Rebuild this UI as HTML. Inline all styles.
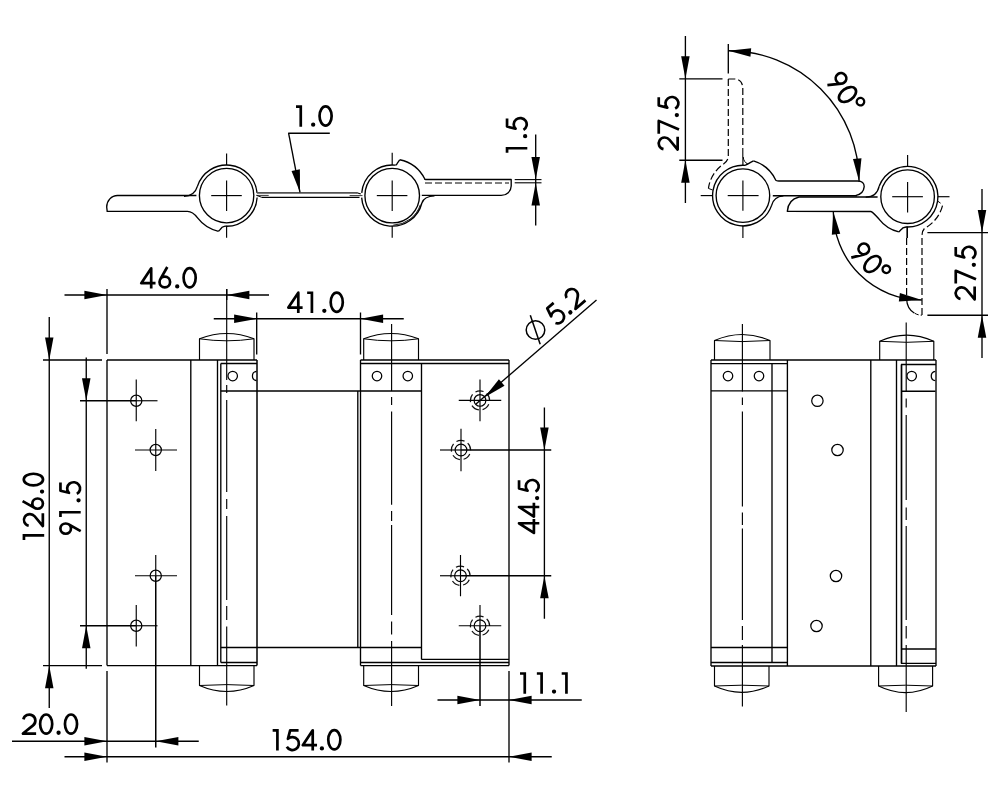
<!DOCTYPE html>
<html><head><meta charset="utf-8"><title>Hinge drawing</title>
<style>html,body{margin:0;padding:0;background:#fff;font-family:"Liberation Sans",sans-serif;}svg{display:block}</style>
</head><body>
<svg width="1000" height="800" viewBox="0 0 1000 800">
<rect x="0" y="0" width="1000" height="800" fill="#fff"/>
<circle cx="226.6" cy="195.6" r="27.2" fill="none" stroke="#000" stroke-width="1.35"/>
<path d="M225,226.16 A30.6,30.6 0 0 0 257.14,197.47" fill="none" stroke="#000" stroke-width="1.35" stroke-linejoin="round"/>
<path d="M257.08,192.93 A30.6,30.6 0 0 0 197.5,186.14" fill="none" stroke="#000" stroke-width="1.35" stroke-linejoin="round"/>
<path d="M218.49,231.29 L220.3,229.4 Q221.6,226.8 225,226.16" fill="none" stroke="#000" stroke-width="1.35" stroke-linejoin="miter"/>
<path d="M196.4,195.5 L117.5,195.5 A10.8,11.5 0 0 0 106.7,207 L107.2,211.3 L187.5,211.4 Q192.6,211.4 197.56,217.88 A36.6,36.6 0 0 0 218.49,231.29" fill="none" stroke="#000" stroke-width="1.35" stroke-linejoin="miter"/>
<path d="M184,196.2 Q194.5,196.2 197.5,186.14" fill="none" stroke="#000" stroke-width="1.35" stroke-linejoin="round"/>
<line x1="256.9" y1="192.9" x2="357" y2="192.9" stroke="#555" stroke-width="1.7" stroke-linecap="butt"/>
<line x1="261.8" y1="197.3" x2="359.5" y2="197.3" stroke="#000" stroke-width="1.25" stroke-linecap="butt"/>
<line x1="256.4" y1="195.4" x2="268.7" y2="195.4" stroke="#000" stroke-width="0.8" stroke-linecap="butt"/>
<path d="M256.6,195.4 L261.8,197.3" fill="none" stroke="#000" stroke-width="1" stroke-linejoin="round"/>
<path d="M356.9,192.7 L360.8,194" fill="none" stroke="#000" stroke-width="1.2" stroke-linejoin="round"/>
<line x1="349.6" y1="195.6" x2="362.5" y2="195.6" stroke="#000" stroke-width="0.8" stroke-linecap="butt"/>
<circle cx="392.2" cy="195.6" r="27.3" fill="none" stroke="#000" stroke-width="1.35"/>
<path d="M421.89,203 A30.6,30.6 0 0 1 361.67,197.63" fill="none" stroke="#000" stroke-width="1.35" stroke-linejoin="round"/>
<path d="M361.72,192.93 A30.6,30.6 0 0 1 395.4,165.17" fill="none" stroke="#000" stroke-width="1.35" stroke-linejoin="round"/>
<path d="M420.35,204.75 A29.6,29.6 0 0 1 393.23,225.18" fill="none" stroke="#000" stroke-width="0.9" stroke-linejoin="round"/>
<path d="M399.68,159.77 L397.2,163.4 Q396.6,164.8 395.4,165.17" fill="none" stroke="#000" stroke-width="1.35" stroke-linejoin="round"/>
<path d="M399.68,159.77 A36.6,36.6 0 0 1 424.81,178.98 Q424,179.3 427,179.5 L511.2,179.5 L511.2,186 A10,9.5 0 0 1 501.2,195.4 L421.8,195.4" fill="none" stroke="#000" stroke-width="1.35" stroke-linejoin="round"/>
<path d="M434.5,195.8 Q424,196.2 421.89,203" fill="none" stroke="#000" stroke-width="1.35" stroke-linejoin="round"/>
<line x1="425" y1="183" x2="509" y2="183" stroke="#000" stroke-width="1.2" stroke-dasharray="7 3" stroke-linecap="butt"/>
<line x1="226.6" y1="153.4" x2="226.6" y2="165" stroke="#000" stroke-width="1.15" stroke-linecap="butt"/>
<line x1="226.6" y1="180.5" x2="226.6" y2="210.9" stroke="#000" stroke-width="1.15" stroke-linecap="butt"/>
<line x1="226.6" y1="225.7" x2="226.6" y2="237.8" stroke="#000" stroke-width="1.15" stroke-linecap="butt"/>
<line x1="211.2" y1="195.6" x2="241.8" y2="195.6" stroke="#000" stroke-width="1.15" stroke-linecap="butt"/>
<line x1="392.2" y1="152.8" x2="392.2" y2="165" stroke="#000" stroke-width="1.15" stroke-linecap="butt"/>
<line x1="392.2" y1="180.5" x2="392.2" y2="210.9" stroke="#000" stroke-width="1.15" stroke-linecap="butt"/>
<line x1="392.2" y1="225.7" x2="392.2" y2="237.8" stroke="#000" stroke-width="1.15" stroke-linecap="butt"/>
<line x1="376.8" y1="195.6" x2="407.4" y2="195.6" stroke="#000" stroke-width="1.15" stroke-linecap="butt"/>
<line x1="514.7" y1="179.6" x2="541.5" y2="179.6" stroke="#000" stroke-width="1.1" stroke-linecap="butt"/>
<line x1="514.7" y1="182.8" x2="541.5" y2="182.8" stroke="#000" stroke-width="1.1" stroke-linecap="butt"/>
<line x1="535.7" y1="134.4" x2="535.7" y2="225.4" stroke="#000" stroke-width="1.35" stroke-linecap="butt"/>
<polygon points="535.7,179.6 531.45,157 539.95,157" fill="#000"/>
<polygon points="535.7,182.8 539.95,205.4 531.45,205.4" fill="#000"/>
<line x1="288.2" y1="133.2" x2="329.8" y2="133.2" stroke="#000" stroke-width="1.35" stroke-linecap="butt"/>
<line x1="288.6" y1="133.2" x2="300" y2="192.3" stroke="#000" stroke-width="1.35" stroke-linecap="butt"/>
<polygon points="300,192.3 291.55,170.91 299.89,169.3" fill="#000"/>
<circle cx="742.9" cy="195.6" r="26.8" fill="none" stroke="#000" stroke-width="1.35"/>
<path d="M771.41,205.86 A30.3,30.3 0 1 1 745.01,165.37" fill="none" stroke="#000" stroke-width="1.35" stroke-linejoin="round"/>
<path d="M753.51,160.89 L750.6,162.4 Q748.3,163.8 745.01,165.37" fill="none" stroke="#000" stroke-width="1.35" stroke-linejoin="round"/>
<path d="M753.51,160.89 A36.3,36.3 0 0 1 775.53,179.69 Q775.6,180.8 779,181 L857.5,181 Q864.3,181 864.2,186.6 Q863.6,194 855.5,195.7" fill="none" stroke="#000" stroke-width="1.35" stroke-linejoin="round"/>
<line x1="772.8" y1="195.7" x2="857" y2="195.7" stroke="#000" stroke-width="1.35" stroke-linecap="butt"/>
<path d="M783.4,195.9 Q773.6,196.6 771.41,205.86" fill="none" stroke="#000" stroke-width="1.35" stroke-linejoin="round"/>
<circle cx="907.6" cy="196.7" r="26.8" fill="none" stroke="#000" stroke-width="1.35"/>
<path d="M906.01,226.96 A30.3,30.3 0 1 0 879.22,186.09" fill="none" stroke="#000" stroke-width="1.35" stroke-linejoin="round"/>
<path d="M898.82,231.92 L901.2,229.6 Q902.3,227.5 906.01,226.96" fill="none" stroke="#000" stroke-width="1.35" stroke-linejoin="round"/>
<path d="M877.6,197 L799,197 Q788.2,199.5 787.3,211.4 L870.8,211.5 Q872.5,211.7 879,219.05 A36.3,36.3 0 0 0 898.82,231.92" fill="none" stroke="#000" stroke-width="1.35" stroke-linejoin="round"/>
<path d="M865.7,197.1 Q876.6,197.2 879.22,186.09" fill="none" stroke="#000" stroke-width="1.35" stroke-linejoin="round"/>
<line x1="742.9" y1="157" x2="742.9" y2="165.3" stroke="#000" stroke-width="1.15" stroke-linecap="butt"/>
<line x1="742.9" y1="180.5" x2="742.9" y2="210.8" stroke="#000" stroke-width="1.15" stroke-linecap="butt"/>
<line x1="742.9" y1="225.4" x2="742.9" y2="238" stroke="#000" stroke-width="1.15" stroke-linecap="butt"/>
<line x1="700.7" y1="195.6" x2="712.6" y2="195.6" stroke="#000" stroke-width="1.15" stroke-linecap="butt"/>
<line x1="727.7" y1="195.6" x2="758.6" y2="195.6" stroke="#000" stroke-width="1.15" stroke-linecap="butt"/>
<line x1="907.6" y1="155" x2="907.6" y2="166.4" stroke="#000" stroke-width="1.15" stroke-linecap="butt"/>
<line x1="907.6" y1="182" x2="907.6" y2="212.4" stroke="#000" stroke-width="1.15" stroke-linecap="butt"/>
<line x1="907.2" y1="226.5" x2="907.2" y2="238" stroke="#000" stroke-width="1.6" stroke-linecap="butt"/>
<line x1="892.2" y1="196.7" x2="922.9" y2="196.7" stroke="#000" stroke-width="1.15" stroke-linecap="butt"/>
<line x1="937.7" y1="196.7" x2="949.5" y2="196.7" stroke="#000" stroke-width="1.15" stroke-linecap="butt"/>
<path d="M728.3,79 L728.3,156 Q728.2,161.5 722.6,164.6 A36,36 0 0 0 708.4,188.4" fill="none" stroke="#000" stroke-width="1.2" stroke-dasharray="7 3" stroke-linejoin="round"/>
<path d="M708.4,188.4 L712.6,190" fill="none" stroke="#000" stroke-width="1" stroke-linejoin="round"/>
<path d="M728.3,79 L735,79 Q742.8,79.5 742.8,89 L742.8,148" fill="none" stroke="#000" stroke-width="1.2" stroke-dasharray="7 3" stroke-linejoin="round"/>
<line x1="742.8" y1="148" x2="742.8" y2="157" stroke="#000" stroke-width="1.1" stroke-linecap="butt"/>
<path d="M743.2,157 Q743.6,162 748,164.2" fill="none" stroke="#000" stroke-width="1" stroke-linejoin="round"/>
<path d="M906.6,238 L906.6,300" fill="none" stroke="#000" stroke-width="1.2" stroke-dasharray="7 3" stroke-linejoin="round"/>
<path d="M906.6,299 Q907,309 914.5,313.2" fill="none" stroke="#000" stroke-width="1.25" stroke-linejoin="round"/>
<path d="M915,313.4 Q918,315.2 922,315.2" fill="none" stroke="#000" stroke-width="1" stroke-dasharray="4 2" stroke-linejoin="round"/>
<path d="M922,315 L922,236 Q922,231 924.5,228.4 A36,36 0 0 0 942.9,204" fill="none" stroke="#000" stroke-width="1.2" stroke-dasharray="7 3" stroke-linejoin="round"/>
<path d="M937.8,201.2 L940.6,203.2" fill="none" stroke="#000" stroke-width="1" stroke-linejoin="round"/>
<line x1="685.4" y1="36" x2="685.4" y2="203" stroke="#000" stroke-width="1.35" stroke-linecap="butt"/>
<line x1="679.3" y1="78.8" x2="722.5" y2="78.8" stroke="#000" stroke-width="1.35" stroke-linecap="butt"/>
<line x1="679.3" y1="160.2" x2="722.5" y2="160.2" stroke="#000" stroke-width="1.35" stroke-linecap="butt"/>
<polygon points="685.4,78.8 681.15,56.2 689.65,56.2" fill="#000"/>
<polygon points="685.4,160.2 689.65,182.8 681.15,182.8" fill="#000"/>
<line x1="982" y1="189" x2="982" y2="358" stroke="#000" stroke-width="1.35" stroke-linecap="butt"/>
<line x1="927.4" y1="232.6" x2="988" y2="232.6" stroke="#000" stroke-width="1.35" stroke-linecap="butt"/>
<line x1="927.4" y1="315.2" x2="988" y2="315.2" stroke="#000" stroke-width="1.35" stroke-linecap="butt"/>
<polygon points="982,232.6 977.75,210 986.25,210" fill="#000"/>
<polygon points="982,315.2 986.25,337.8 977.75,337.8" fill="#000"/>
<line x1="728.3" y1="44" x2="728.3" y2="73.6" stroke="#000" stroke-width="1.35" stroke-linecap="butt"/>
<path d="M728.3,50.7 A130.8,130.8 0 0 1 859.1,181.5" fill="none" stroke="#000" stroke-width="1.35" stroke-linejoin="round"/>
<polygon points="728.3,50.7 751.17,48.32 750.48,56.79" fill="#000"/>
<polygon points="859.1,181.2 853.01,159.02 861.48,158.33" fill="#000"/>
<path d="M833.3,211.5 A88.5,88.5 0 0 0 921.8,300" fill="none" stroke="#000" stroke-width="1.35" stroke-linejoin="round"/>
<polygon points="833.3,211.8 840.27,233.71 831.84,234.75" fill="#000"/>
<polygon points="921.8,300 898.85,301.42 899.9,292.99" fill="#000"/>
<line x1="107" y1="360" x2="257" y2="360" stroke="#000" stroke-width="1.35" stroke-linecap="butt"/>
<line x1="360.5" y1="360" x2="509" y2="360" stroke="#000" stroke-width="1.35" stroke-linecap="butt"/>
<line x1="220.8" y1="363.5" x2="257" y2="363.5" stroke="#000" stroke-width="1.35" stroke-linecap="butt"/>
<line x1="360.5" y1="363.5" x2="509" y2="363.5" stroke="#000" stroke-width="1.35" stroke-linecap="butt"/>
<line x1="220.8" y1="391" x2="421.5" y2="391" stroke="#000" stroke-width="1.35" stroke-linecap="butt"/>
<line x1="220.8" y1="647.5" x2="421.5" y2="647.5" stroke="#000" stroke-width="1.35" stroke-linecap="butt"/>
<line x1="421.5" y1="659.4" x2="509" y2="659.4" stroke="#000" stroke-width="1.35" stroke-linecap="butt"/>
<line x1="220.8" y1="662.5" x2="257" y2="662.5" stroke="#000" stroke-width="1.35" stroke-linecap="butt"/>
<line x1="360.5" y1="662.5" x2="509" y2="662.5" stroke="#000" stroke-width="1.35" stroke-linecap="butt"/>
<line x1="107" y1="665.6" x2="257" y2="665.6" stroke="#000" stroke-width="1.35" stroke-linecap="butt"/>
<line x1="360.5" y1="665.6" x2="509" y2="665.6" stroke="#000" stroke-width="1.35" stroke-linecap="butt"/>
<line x1="107" y1="360" x2="107" y2="665.6" stroke="#000" stroke-width="1.35" stroke-linecap="butt"/>
<line x1="190.8" y1="360" x2="190.8" y2="665.6" stroke="#000" stroke-width="1.35" stroke-linecap="butt"/>
<line x1="217.5" y1="360" x2="217.5" y2="665.6" stroke="#000" stroke-width="1.35" stroke-linecap="butt"/>
<line x1="220.8" y1="363.5" x2="220.8" y2="662.5" stroke="#000" stroke-width="1.35" stroke-linecap="butt"/>
<line x1="257" y1="360" x2="257" y2="665.6" stroke="#000" stroke-width="1.5" stroke-linecap="butt"/>
<line x1="357.8" y1="391" x2="357.8" y2="647.5" stroke="#000" stroke-width="1.35" stroke-linecap="butt"/>
<line x1="360.5" y1="360" x2="360.5" y2="665.6" stroke="#000" stroke-width="1.35" stroke-linecap="butt"/>
<line x1="421.5" y1="363.5" x2="421.5" y2="659.4" stroke="#000" stroke-width="1.35" stroke-linecap="butt"/>
<line x1="509" y1="360" x2="509" y2="665.6" stroke="#000" stroke-width="1.35" stroke-linecap="butt"/>
<path d="M199.5,360 L199.5,338.8 Q226.75,328.2 254,338.8 L254,360" fill="none" stroke="#000" stroke-width="1.15" stroke-linejoin="round"/>
<path d="M199.5,338.8 Q226.75,342.8 254,338.8" fill="none" stroke="#000" stroke-width="1" stroke-linejoin="round"/>
<path d="M363.7,360 L363.7,338.8 Q391.1,328.2 418.5,338.8 L418.5,360" fill="none" stroke="#000" stroke-width="1.15" stroke-linejoin="round"/>
<path d="M363.7,338.8 Q391.1,342.8 418.5,338.8" fill="none" stroke="#000" stroke-width="1" stroke-linejoin="round"/>
<path d="M199.5,665.6 L199.5,685.5 Q226.75,697.5 254,685.5 L254,665.6" fill="none" stroke="#000" stroke-width="1.15" stroke-linejoin="round"/>
<path d="M199.5,685.5 Q226.75,683.7 254,685.5" fill="none" stroke="#000" stroke-width="1" stroke-linejoin="round"/>
<path d="M363.7,665.6 L363.7,685.5 Q391.1,697.5 418.5,685.5 L418.5,665.6" fill="none" stroke="#000" stroke-width="1.15" stroke-linejoin="round"/>
<path d="M363.7,685.5 Q391.1,683.7 418.5,685.5" fill="none" stroke="#000" stroke-width="1" stroke-linejoin="round"/>
<circle cx="232.7" cy="376" r="4.75" fill="none" stroke="#000" stroke-width="1.25"/>
<circle cx="377" cy="376" r="4.75" fill="none" stroke="#000" stroke-width="1.25"/>
<circle cx="407.8" cy="376" r="4.75" fill="none" stroke="#000" stroke-width="1.25"/>
<path d="M256.5,371.3 A4.75,4.75 0 0 0 256.5,380.7" fill="none" stroke="#000" stroke-width="1.25" stroke-linejoin="round"/>
<line x1="226.7" y1="289" x2="226.7" y2="380" stroke="#000" stroke-width="1.15" stroke-linecap="butt"/>
<line x1="226.7" y1="385" x2="226.7" y2="393" stroke="#000" stroke-width="1.15" stroke-linecap="butt"/>
<line x1="226.7" y1="400" x2="226.7" y2="492" stroke="#000" stroke-width="1.15" stroke-linecap="butt"/>
<line x1="226.7" y1="499" x2="226.7" y2="509" stroke="#000" stroke-width="1.15" stroke-linecap="butt"/>
<line x1="226.7" y1="516" x2="226.7" y2="600" stroke="#000" stroke-width="1.15" stroke-linecap="butt"/>
<line x1="226.7" y1="606" x2="226.7" y2="620" stroke="#000" stroke-width="1.15" stroke-linecap="butt"/>
<line x1="226.7" y1="626.5" x2="226.7" y2="705.5" stroke="#000" stroke-width="1.15" stroke-linecap="butt"/>
<line x1="391.6" y1="324" x2="391.6" y2="391" stroke="#000" stroke-width="1.15" stroke-linecap="butt"/>
<line x1="391.6" y1="397" x2="391.6" y2="405" stroke="#000" stroke-width="1.15" stroke-linecap="butt"/>
<line x1="391.6" y1="411.5" x2="391.6" y2="504.7" stroke="#000" stroke-width="1.15" stroke-linecap="butt"/>
<line x1="391.6" y1="511" x2="391.6" y2="521" stroke="#000" stroke-width="1.15" stroke-linecap="butt"/>
<line x1="391.6" y1="525" x2="391.6" y2="615" stroke="#000" stroke-width="1.15" stroke-linecap="butt"/>
<line x1="391.6" y1="621.5" x2="391.6" y2="634.6" stroke="#000" stroke-width="1.15" stroke-linecap="butt"/>
<line x1="391.6" y1="641" x2="391.6" y2="706" stroke="#000" stroke-width="1.15" stroke-linecap="butt"/>
<circle cx="136.25" cy="400.75" r="5.6" fill="none" stroke="#000" stroke-width="1.25"/>
<circle cx="155.75" cy="450" r="5.6" fill="none" stroke="#000" stroke-width="1.25"/>
<circle cx="155.75" cy="575.75" r="5.6" fill="none" stroke="#000" stroke-width="1.25"/>
<circle cx="136.25" cy="625.75" r="5.6" fill="none" stroke="#000" stroke-width="1.25"/>
<line x1="80" y1="400.75" x2="136.25" y2="400.75" stroke="#000" stroke-width="1.5" stroke-linecap="butt"/>
<line x1="136.25" y1="400.75" x2="157.5" y2="400.75" stroke="#000" stroke-width="1.15" stroke-linecap="butt"/>
<line x1="136.25" y1="379.5" x2="136.25" y2="421.2" stroke="#000" stroke-width="1.15" stroke-linecap="butt"/>
<line x1="135" y1="450" x2="177" y2="450" stroke="#000" stroke-width="1.15" stroke-linecap="butt"/>
<line x1="155.75" y1="429" x2="155.75" y2="471" stroke="#000" stroke-width="1.15" stroke-linecap="butt"/>
<line x1="135" y1="575.75" x2="177" y2="575.75" stroke="#000" stroke-width="1.15" stroke-linecap="butt"/>
<line x1="155.75" y1="555" x2="155.75" y2="575.75" stroke="#000" stroke-width="1.15" stroke-linecap="butt"/>
<line x1="155.75" y1="575.75" x2="155.75" y2="747.5" stroke="#000" stroke-width="1.5" stroke-linecap="butt"/>
<line x1="80" y1="625.75" x2="136.25" y2="625.75" stroke="#000" stroke-width="1.5" stroke-linecap="butt"/>
<line x1="136.25" y1="625.75" x2="157.5" y2="625.75" stroke="#000" stroke-width="1.15" stroke-linecap="butt"/>
<line x1="136.25" y1="605" x2="136.25" y2="646.5" stroke="#000" stroke-width="1.15" stroke-linecap="butt"/>
<circle cx="480" cy="400.4" r="5.85" fill="none" stroke="#000" stroke-width="1.2"/>
<circle cx="480" cy="400.4" r="9.6" fill="none" stroke="#111" stroke-width="1.25" stroke-dasharray="8.3 3.76" stroke-dashoffset="8"/>
<circle cx="461" cy="450" r="5.85" fill="none" stroke="#000" stroke-width="1.2"/>
<circle cx="461" cy="450" r="9.6" fill="none" stroke="#111" stroke-width="1.25" stroke-dasharray="8.3 3.76" stroke-dashoffset="8"/>
<circle cx="460.5" cy="575.75" r="5.85" fill="none" stroke="#000" stroke-width="1.2"/>
<circle cx="460.5" cy="575.75" r="9.6" fill="none" stroke="#111" stroke-width="1.25" stroke-dasharray="8.3 3.76" stroke-dashoffset="8"/>
<circle cx="480" cy="625.75" r="5.85" fill="none" stroke="#000" stroke-width="1.2"/>
<circle cx="480" cy="625.75" r="9.6" fill="none" stroke="#111" stroke-width="1.25" stroke-dasharray="8.3 3.76" stroke-dashoffset="8"/>
<line x1="458.75" y1="400.4" x2="501.25" y2="400.4" stroke="#000" stroke-width="1.15" stroke-linecap="butt"/>
<line x1="480" y1="379.5" x2="480" y2="421.25" stroke="#000" stroke-width="1.15" stroke-linecap="butt"/>
<line x1="440" y1="450" x2="461" y2="450" stroke="#000" stroke-width="1.15" stroke-linecap="butt"/>
<line x1="461" y1="450" x2="551.25" y2="450" stroke="#000" stroke-width="1.5" stroke-linecap="butt"/>
<line x1="461" y1="428.75" x2="461" y2="471.25" stroke="#000" stroke-width="1.15" stroke-linecap="butt"/>
<line x1="440" y1="575.75" x2="460.5" y2="575.75" stroke="#000" stroke-width="1.15" stroke-linecap="butt"/>
<line x1="460.5" y1="575.75" x2="551.25" y2="575.75" stroke="#000" stroke-width="1.5" stroke-linecap="butt"/>
<line x1="460.5" y1="555" x2="460.5" y2="596.25" stroke="#000" stroke-width="1.15" stroke-linecap="butt"/>
<line x1="458.75" y1="625.75" x2="501.25" y2="625.75" stroke="#000" stroke-width="1.15" stroke-linecap="butt"/>
<line x1="480" y1="605" x2="480" y2="625.75" stroke="#000" stroke-width="1.15" stroke-linecap="butt"/>
<line x1="480" y1="625.75" x2="480" y2="706" stroke="#000" stroke-width="1.5" stroke-linecap="butt"/>
<line x1="64.5" y1="295" x2="269" y2="295" stroke="#000" stroke-width="1.35" stroke-linecap="butt"/>
<line x1="107" y1="289" x2="107" y2="354" stroke="#000" stroke-width="1.35" stroke-linecap="butt"/>
<line x1="226.75" y1="289" x2="226.75" y2="300" stroke="#000" stroke-width="1.35" stroke-linecap="butt"/>
<polygon points="107,295 84.4,299.25 84.4,290.75" fill="#000"/>
<polygon points="226.75,295 249.35,290.75 249.35,299.25" fill="#000"/>
<line x1="213.75" y1="318.75" x2="403.75" y2="318.75" stroke="#000" stroke-width="1.35" stroke-linecap="butt"/>
<line x1="256.7" y1="312.5" x2="256.7" y2="354.5" stroke="#000" stroke-width="1.35" stroke-linecap="butt"/>
<line x1="360.5" y1="312.5" x2="360.5" y2="354.5" stroke="#000" stroke-width="1.35" stroke-linecap="butt"/>
<polygon points="256.7,318.75 234.1,323 234.1,314.5" fill="#000"/>
<polygon points="360.5,318.75 383.1,314.5 383.1,323" fill="#000"/>
<line x1="49.25" y1="317" x2="49.25" y2="708" stroke="#000" stroke-width="1.35" stroke-linecap="butt"/>
<line x1="43" y1="360" x2="102" y2="360" stroke="#000" stroke-width="1.35" stroke-linecap="butt"/>
<line x1="43" y1="665.6" x2="102" y2="665.6" stroke="#000" stroke-width="1.35" stroke-linecap="butt"/>
<polygon points="49.25,360 45,337.4 53.5,337.4" fill="#000"/>
<polygon points="49.25,665.6 53.5,688.2 45,688.2" fill="#000"/>
<line x1="86.25" y1="357.5" x2="86.25" y2="668.75" stroke="#000" stroke-width="1.35" stroke-linecap="butt"/>
<polygon points="86.25,400.75 82,378.15 90.5,378.15" fill="#000"/>
<polygon points="86.25,625.75 90.5,648.35 82,648.35" fill="#000"/>
<line x1="544.4" y1="407.5" x2="544.4" y2="618.75" stroke="#000" stroke-width="1.35" stroke-linecap="butt"/>
<polygon points="544.4,450 540.15,427.4 548.65,427.4" fill="#000"/>
<polygon points="544.4,575.75 548.65,598.35 540.15,598.35" fill="#000"/>
<line x1="12" y1="741.25" x2="198.75" y2="741.25" stroke="#000" stroke-width="1.35" stroke-linecap="butt"/>
<line x1="107" y1="671" x2="107" y2="762.5" stroke="#000" stroke-width="1.35" stroke-linecap="butt"/>
<polygon points="107,741.25 84.4,745.5 84.4,737" fill="#000"/>
<polygon points="155.75,741.25 178.35,737 178.35,745.5" fill="#000"/>
<line x1="64.5" y1="756.75" x2="551.75" y2="756.75" stroke="#000" stroke-width="1.35" stroke-linecap="butt"/>
<line x1="509" y1="671" x2="509" y2="762.5" stroke="#000" stroke-width="1.35" stroke-linecap="butt"/>
<polygon points="107,756.75 84.4,761 84.4,752.5" fill="#000"/>
<polygon points="509,756.75 531.6,752.5 531.6,761" fill="#000"/>
<line x1="437.5" y1="700" x2="581.75" y2="700" stroke="#000" stroke-width="1.35" stroke-linecap="butt"/>
<polygon points="480,700 457.4,704.25 457.4,695.75" fill="#000"/>
<polygon points="509,700 531.6,695.75 531.6,704.25" fill="#000"/>
<line x1="596.5" y1="300" x2="476" y2="404" stroke="#000" stroke-width="1.35" stroke-linecap="butt"/>
<polygon points="484.6,397.2 498.93,379.22 504.49,385.65" fill="#000"/>
<line x1="711" y1="360" x2="936" y2="360" stroke="#000" stroke-width="1.35" stroke-linecap="butt"/>
<line x1="711" y1="363.6" x2="787.4" y2="363.6" stroke="#000" stroke-width="1.35" stroke-linecap="butt"/>
<line x1="901" y1="364.5" x2="936" y2="364.5" stroke="#000" stroke-width="1.5" stroke-linecap="butt"/>
<line x1="711" y1="390.8" x2="787.4" y2="390.8" stroke="#000" stroke-width="1.35" stroke-linecap="butt"/>
<line x1="901" y1="391.2" x2="935.5" y2="391.2" stroke="#000" stroke-width="1.5" stroke-linecap="butt"/>
<line x1="711" y1="647.5" x2="787.4" y2="647.5" stroke="#000" stroke-width="1.35" stroke-linecap="butt"/>
<line x1="901" y1="649" x2="936" y2="649" stroke="#000" stroke-width="1.35" stroke-linecap="butt"/>
<line x1="711" y1="662.5" x2="787.4" y2="662.5" stroke="#000" stroke-width="1.35" stroke-linecap="butt"/>
<line x1="901" y1="663.4" x2="936" y2="663.4" stroke="#000" stroke-width="1.35" stroke-linecap="butt"/>
<line x1="711" y1="666" x2="936" y2="666" stroke="#000" stroke-width="1.35" stroke-linecap="butt"/>
<line x1="711" y1="360" x2="711" y2="666" stroke="#000" stroke-width="1.35" stroke-linecap="butt"/>
<line x1="772" y1="363.6" x2="772" y2="662.5" stroke="#000" stroke-width="1.35" stroke-linecap="butt"/>
<line x1="787.4" y1="360" x2="787.4" y2="666" stroke="#000" stroke-width="1.35" stroke-linecap="butt"/>
<line x1="870.8" y1="360" x2="870.8" y2="666" stroke="#000" stroke-width="1.35" stroke-linecap="butt"/>
<line x1="896.5" y1="360" x2="896.5" y2="666" stroke="#000" stroke-width="1.35" stroke-linecap="butt"/>
<line x1="901.5" y1="364.5" x2="901.5" y2="663.4" stroke="#000" stroke-width="1.7" stroke-linecap="butt"/>
<line x1="936" y1="360" x2="936" y2="666" stroke="#000" stroke-width="1.35" stroke-linecap="butt"/>
<path d="M714.5,360 L714.5,340.5 Q742.25,328.5 770,340.5 L770,360" fill="none" stroke="#000" stroke-width="1.15" stroke-linejoin="round"/>
<path d="M714.5,340.5 Q742.25,342.7 770,340.5" fill="none" stroke="#000" stroke-width="1" stroke-linejoin="round"/>
<path d="M879.7,360 L879.7,341.3 Q906.75,329.1 933.8,341.3 L933.8,360" fill="none" stroke="#000" stroke-width="1.15" stroke-linejoin="round"/>
<path d="M879.7,341.3 Q906.75,343.3 933.8,341.3" fill="none" stroke="#000" stroke-width="1" stroke-linejoin="round"/>
<path d="M714.5,666 L714.5,686 Q741.75,698.6 769,686 L769,666" fill="none" stroke="#000" stroke-width="1.15" stroke-linejoin="round"/>
<path d="M714.5,686 Q741.75,684.4 769,686" fill="none" stroke="#000" stroke-width="1" stroke-linejoin="round"/>
<path d="M878.6,666 L878.6,686 Q905.6,699.2 932.6,686 L932.6,666" fill="none" stroke="#000" stroke-width="1.15" stroke-linejoin="round"/>
<path d="M878.6,686 Q905.6,684.4 932.6,686" fill="none" stroke="#000" stroke-width="1" stroke-linejoin="round"/>
<line x1="742.4" y1="324" x2="742.4" y2="391.5" stroke="#000" stroke-width="1.15" stroke-linecap="butt"/>
<line x1="742.4" y1="397.5" x2="742.4" y2="405" stroke="#000" stroke-width="1.15" stroke-linecap="butt"/>
<line x1="742.4" y1="411.5" x2="742.4" y2="506.5" stroke="#000" stroke-width="1.15" stroke-linecap="butt"/>
<line x1="742.4" y1="512.5" x2="742.4" y2="525" stroke="#000" stroke-width="1.15" stroke-linecap="butt"/>
<line x1="742.4" y1="528.5" x2="742.4" y2="620" stroke="#000" stroke-width="1.15" stroke-linecap="butt"/>
<line x1="742.4" y1="626" x2="742.4" y2="640" stroke="#000" stroke-width="1.15" stroke-linecap="butt"/>
<line x1="742.4" y1="645" x2="742.4" y2="706.5" stroke="#000" stroke-width="1.15" stroke-linecap="butt"/>
<line x1="906.2" y1="322.5" x2="906.2" y2="391.5" stroke="#000" stroke-width="1.15" stroke-linecap="butt"/>
<line x1="906.2" y1="398.5" x2="906.2" y2="407.5" stroke="#000" stroke-width="1.15" stroke-linecap="butt"/>
<line x1="906.2" y1="415" x2="906.2" y2="500" stroke="#000" stroke-width="1.15" stroke-linecap="butt"/>
<line x1="906.2" y1="507.5" x2="906.2" y2="520" stroke="#000" stroke-width="1.15" stroke-linecap="butt"/>
<line x1="906.2" y1="526" x2="906.2" y2="620" stroke="#000" stroke-width="1.15" stroke-linecap="butt"/>
<line x1="906.2" y1="626" x2="906.2" y2="638.5" stroke="#000" stroke-width="1.15" stroke-linecap="butt"/>
<line x1="906.2" y1="645" x2="906.2" y2="712" stroke="#000" stroke-width="1.15" stroke-linecap="butt"/>
<circle cx="728" cy="376" r="4.75" fill="none" stroke="#000" stroke-width="1.25"/>
<circle cx="759" cy="376" r="4.75" fill="none" stroke="#000" stroke-width="1.25"/>
<circle cx="911.7" cy="376" r="4.75" fill="none" stroke="#000" stroke-width="1.25"/>
<path d="M935.3,371.3 A4.75,4.75 0 0 0 935.3,380.7" fill="none" stroke="#000" stroke-width="1.25" stroke-linejoin="round"/>
<circle cx="817.4" cy="400.8" r="5.7" fill="none" stroke="#000" stroke-width="1.25"/>
<circle cx="837.5" cy="450" r="5.7" fill="none" stroke="#000" stroke-width="1.25"/>
<circle cx="836" cy="576" r="5.7" fill="none" stroke="#000" stroke-width="1.25"/>
<circle cx="816.5" cy="626" r="5.7" fill="none" stroke="#000" stroke-width="1.25"/>
<g transform="translate(292.44,126.8) rotate(0) scale(21.6,21.6)" fill="none" stroke="#000" stroke-width="0.125" stroke-linejoin="round" stroke-linecap="butt"><path transform="translate(0,0)" d="M0.165,-0.9375 L0.385,-0.9375 M0.385,-1 L0.385,0"/><path transform="translate(0.78,0)" d="M0.08,-0.10 A0.10,0.10 0 1 1 0.28,-0.10 A0.10,0.10 0 1 1 0.08,-0.10 Z" fill="#000" stroke="none"/><path transform="translate(1.15,0)" d="M0.105,-0.5 A0.28,0.445 0 1 1 0.665,-0.5 A0.28,0.445 0 1 1 0.105,-0.5 Z"/></g>
<g transform="translate(139.64,288.6) rotate(0) scale(21.6,21.6)" fill="none" stroke="#000" stroke-width="0.125" stroke-linejoin="round" stroke-linecap="butt"><path transform="translate(0,0)" d="M0.535,0 L0.535,-0.94 L0.075,-0.25 L0.735,-0.25"/><path transform="translate(0.78,0)" d="M0.5,-1 L0.1723,-0.4266 M0.14,-0.305 A0.245,0.245 0 1 1 0.63,-0.305 A0.245,0.245 0 1 1 0.14,-0.305 Z"/><path transform="translate(1.56,0)" d="M0.08,-0.10 A0.10,0.10 0 1 1 0.28,-0.10 A0.10,0.10 0 1 1 0.08,-0.10 Z" fill="#000" stroke="none"/><path transform="translate(1.93,0)" d="M0.105,-0.5 A0.28,0.445 0 1 1 0.665,-0.5 A0.28,0.445 0 1 1 0.105,-0.5 Z"/></g>
<g transform="translate(286.74,313) rotate(0) scale(21.6,21.6)" fill="none" stroke="#000" stroke-width="0.125" stroke-linejoin="round" stroke-linecap="butt"><path transform="translate(0,0)" d="M0.535,0 L0.535,-0.94 L0.075,-0.25 L0.735,-0.25"/><path transform="translate(0.78,0)" d="M0.165,-0.9375 L0.385,-0.9375 M0.385,-1 L0.385,0"/><path transform="translate(1.56,0)" d="M0.08,-0.10 A0.10,0.10 0 1 1 0.28,-0.10 A0.10,0.10 0 1 1 0.08,-0.10 Z" fill="#000" stroke="none"/><path transform="translate(1.93,0)" d="M0.105,-0.5 A0.28,0.445 0 1 1 0.665,-0.5 A0.28,0.445 0 1 1 0.105,-0.5 Z"/></g>
<g transform="translate(21,734.9) rotate(0) scale(21.6,21.6)" fill="none" stroke="#000" stroke-width="0.125" stroke-linejoin="round" stroke-linecap="butt"><path transform="translate(0,0)" d="M0.1111,-0.7182 A0.28,0.28 0 1 1 0.5607,-0.442 L0.09,-0.0625 L0.70,-0.0625"/><path transform="translate(0.78,0)" d="M0.105,-0.5 A0.28,0.445 0 1 1 0.665,-0.5 A0.28,0.445 0 1 1 0.105,-0.5 Z"/><path transform="translate(1.56,0)" d="M0.08,-0.10 A0.10,0.10 0 1 1 0.28,-0.10 A0.10,0.10 0 1 1 0.08,-0.10 Z" fill="#000" stroke="none"/><path transform="translate(1.93,0)" d="M0.105,-0.5 A0.28,0.445 0 1 1 0.665,-0.5 A0.28,0.445 0 1 1 0.105,-0.5 Z"/></g>
<g transform="translate(269.09,750.6) rotate(0) scale(21.6,21.6)" fill="none" stroke="#000" stroke-width="0.125" stroke-linejoin="round" stroke-linecap="butt"><path transform="translate(0,0)" d="M0.165,-0.9375 L0.385,-0.9375 M0.385,-1 L0.385,0"/><path transform="translate(0.705,0)" d="M0.66,-0.9375 L0.27,-0.9375 L0.1666,-0.5428 A0.3,0.3 0 1 1 0.1152,-0.177"/><path transform="translate(1.485,0)" d="M0.535,0 L0.535,-0.94 L0.075,-0.25 L0.735,-0.25"/><path transform="translate(2.265,0)" d="M0.08,-0.10 A0.10,0.10 0 1 1 0.28,-0.10 A0.10,0.10 0 1 1 0.08,-0.10 Z" fill="#000" stroke="none"/><path transform="translate(2.635,0)" d="M0.105,-0.5 A0.28,0.445 0 1 1 0.665,-0.5 A0.28,0.445 0 1 1 0.105,-0.5 Z"/></g>
<g transform="translate(516.44,693.75) rotate(0) scale(21.6,21.6)" fill="none" stroke="#000" stroke-width="0.125" stroke-linejoin="round" stroke-linecap="butt"><path transform="translate(0,0)" d="M0.165,-0.9375 L0.385,-0.9375 M0.385,-1 L0.385,0"/><path transform="translate(0.78,0)" d="M0.165,-0.9375 L0.385,-0.9375 M0.385,-1 L0.385,0"/><path transform="translate(1.56,0)" d="M0.08,-0.10 A0.10,0.10 0 1 1 0.28,-0.10 A0.10,0.10 0 1 1 0.08,-0.10 Z" fill="#000" stroke="none"/><path transform="translate(1.93,0)" d="M0.165,-0.9375 L0.385,-0.9375 M0.385,-1 L0.385,0"/></g>
<g transform="translate(527.3,156.25) rotate(-90) scale(20.9088,21.6)" fill="none" stroke="#000" stroke-width="0.125" stroke-linejoin="round" stroke-linecap="butt"><path transform="translate(0,0)" d="M0.165,-0.9375 L0.385,-0.9375 M0.385,-1 L0.385,0"/><path transform="translate(0.78,0)" d="M0.08,-0.10 A0.10,0.10 0 1 1 0.28,-0.10 A0.10,0.10 0 1 1 0.08,-0.10 Z" fill="#000" stroke="none"/><path transform="translate(1.15,0)" d="M0.66,-0.9375 L0.27,-0.9375 L0.1666,-0.5428 A0.3,0.3 0 1 1 0.1152,-0.177"/></g>
<g transform="translate(679,151.45) rotate(-90) scale(20.9088,21.6)" fill="none" stroke="#000" stroke-width="0.125" stroke-linejoin="round" stroke-linecap="butt"><path transform="translate(0,0)" d="M0.1111,-0.7182 A0.28,0.28 0 1 1 0.5607,-0.442 L0.09,-0.0625 L0.70,-0.0625"/><path transform="translate(0.78,0)" d="M0.07,-0.9375 L0.68,-0.9375 L0.27,0"/><path transform="translate(1.56,0)" d="M0.08,-0.10 A0.10,0.10 0 1 1 0.28,-0.10 A0.10,0.10 0 1 1 0.08,-0.10 Z" fill="#000" stroke="none"/><path transform="translate(1.93,0)" d="M0.66,-0.9375 L0.27,-0.9375 L0.1666,-0.5428 A0.3,0.3 0 1 1 0.1152,-0.177"/></g>
<g transform="translate(976,301.25) rotate(-90) scale(20.9088,21.6)" fill="none" stroke="#000" stroke-width="0.125" stroke-linejoin="round" stroke-linecap="butt"><path transform="translate(0,0)" d="M0.1111,-0.7182 A0.28,0.28 0 1 1 0.5607,-0.442 L0.09,-0.0625 L0.70,-0.0625"/><path transform="translate(0.78,0)" d="M0.07,-0.9375 L0.68,-0.9375 L0.27,0"/><path transform="translate(1.56,0)" d="M0.08,-0.10 A0.10,0.10 0 1 1 0.28,-0.10 A0.10,0.10 0 1 1 0.08,-0.10 Z" fill="#000" stroke="none"/><path transform="translate(1.93,0)" d="M0.66,-0.9375 L0.27,-0.9375 L0.1666,-0.5428 A0.3,0.3 0 1 1 0.1152,-0.177"/></g>
<g transform="translate(44.2,543.45) rotate(-90) scale(20.9088,21.6)" fill="none" stroke="#000" stroke-width="0.125" stroke-linejoin="round" stroke-linecap="butt"><path transform="translate(0,0)" d="M0.165,-0.9375 L0.385,-0.9375 M0.385,-1 L0.385,0"/><path transform="translate(0.74,0)" d="M0.1111,-0.7182 A0.28,0.28 0 1 1 0.5607,-0.442 L0.09,-0.0625 L0.70,-0.0625"/><path transform="translate(1.52,0)" d="M0.5,-1 L0.1723,-0.4266 M0.14,-0.305 A0.245,0.245 0 1 1 0.63,-0.305 A0.245,0.245 0 1 1 0.14,-0.305 Z"/><path transform="translate(2.3,0)" d="M0.08,-0.10 A0.10,0.10 0 1 1 0.28,-0.10 A0.10,0.10 0 1 1 0.08,-0.10 Z" fill="#000" stroke="none"/><path transform="translate(2.67,0)" d="M0.105,-0.5 A0.28,0.445 0 1 1 0.665,-0.5 A0.28,0.445 0 1 1 0.105,-0.5 Z"/></g>
<g transform="translate(80.7,536.67) rotate(-90) scale(20.9088,21.6)" fill="none" stroke="#000" stroke-width="0.125" stroke-linejoin="round" stroke-linecap="butt"><path transform="translate(0,0)" d="M0.27,0 L0.5977,-0.5734 M0.14,-0.695 A0.245,0.245 0 1 1 0.63,-0.695 A0.245,0.245 0 1 1 0.14,-0.695 Z"/><path transform="translate(0.78,0)" d="M0.165,-0.9375 L0.385,-0.9375 M0.385,-1 L0.385,0"/><path transform="translate(1.56,0)" d="M0.08,-0.10 A0.10,0.10 0 1 1 0.28,-0.10 A0.10,0.10 0 1 1 0.08,-0.10 Z" fill="#000" stroke="none"/><path transform="translate(1.93,0)" d="M0.66,-0.9375 L0.27,-0.9375 L0.1666,-0.5428 A0.3,0.3 0 1 1 0.1152,-0.177"/></g>
<g transform="translate(539.3,534.48) rotate(-90) scale(20.9088,21.6)" fill="none" stroke="#000" stroke-width="0.125" stroke-linejoin="round" stroke-linecap="butt"><path transform="translate(0,0)" d="M0.535,0 L0.535,-0.94 L0.075,-0.25 L0.735,-0.25"/><path transform="translate(0.78,0)" d="M0.535,0 L0.535,-0.94 L0.075,-0.25 L0.735,-0.25"/><path transform="translate(1.56,0)" d="M0.08,-0.10 A0.10,0.10 0 1 1 0.28,-0.10 A0.10,0.10 0 1 1 0.08,-0.10 Z" fill="#000" stroke="none"/><path transform="translate(1.93,0)" d="M0.66,-0.9375 L0.27,-0.9375 L0.1666,-0.5428 A0.3,0.3 0 1 1 0.1152,-0.177"/></g>
<g transform="translate(823.97,80.49) rotate(54) scale(21.6,21.6)" fill="none" stroke="#000" stroke-width="0.125" stroke-linejoin="round" stroke-linecap="butt"><path transform="translate(0,0)" d="M0.27,0 L0.5977,-0.5734 M0.14,-0.695 A0.245,0.245 0 1 1 0.63,-0.695 A0.245,0.245 0 1 1 0.14,-0.695 Z"/><path transform="translate(0.78,0)" d="M0.105,-0.5 A0.28,0.445 0 1 1 0.665,-0.5 A0.28,0.445 0 1 1 0.105,-0.5 Z"/><path transform="translate(1.56,0)" d="M0.05,-0.79 A0.175,0.175 0 1 1 0.4,-0.79 A0.175,0.175 0 1 1 0.05,-0.79 Z" stroke-width="0.105"/></g>
<g transform="translate(847.25,253.4) rotate(46) scale(21.6,21.6)" fill="none" stroke="#000" stroke-width="0.125" stroke-linejoin="round" stroke-linecap="butt"><path transform="translate(0,0)" d="M0.27,0 L0.5977,-0.5734 M0.14,-0.695 A0.245,0.245 0 1 1 0.63,-0.695 A0.245,0.245 0 1 1 0.14,-0.695 Z"/><path transform="translate(0.78,0)" d="M0.105,-0.5 A0.28,0.445 0 1 1 0.665,-0.5 A0.28,0.445 0 1 1 0.105,-0.5 Z"/><path transform="translate(1.56,0)" d="M0.05,-0.79 A0.175,0.175 0 1 1 0.4,-0.79 A0.175,0.175 0 1 1 0.05,-0.79 Z" stroke-width="0.105"/></g>
<g transform="translate(556.07,327.52) rotate(-40.8) scale(21.6,21.6)" fill="none" stroke="#000" stroke-width="0.125" stroke-linejoin="round" stroke-linecap="butt"><path transform="translate(0,0)" d="M0.66,-0.9375 L0.27,-0.9375 L0.1666,-0.5428 A0.3,0.3 0 1 1 0.1152,-0.177"/><path transform="translate(0.78,0)" d="M0.08,-0.10 A0.10,0.10 0 1 1 0.28,-0.10 A0.10,0.10 0 1 1 0.08,-0.10 Z" fill="#000" stroke="none"/><path transform="translate(1.15,0)" d="M0.1111,-0.7182 A0.28,0.28 0 1 1 0.5607,-0.442 L0.09,-0.0625 L0.70,-0.0625"/></g>
<circle cx="535.5" cy="330" r="9.3" fill="none" stroke="#000" stroke-width="1.5"/>
<line x1="530.3" y1="315.3" x2="540.2" y2="344.3" stroke="#000" stroke-width="1.5" stroke-linecap="butt"/>
</svg>
</body></html>
